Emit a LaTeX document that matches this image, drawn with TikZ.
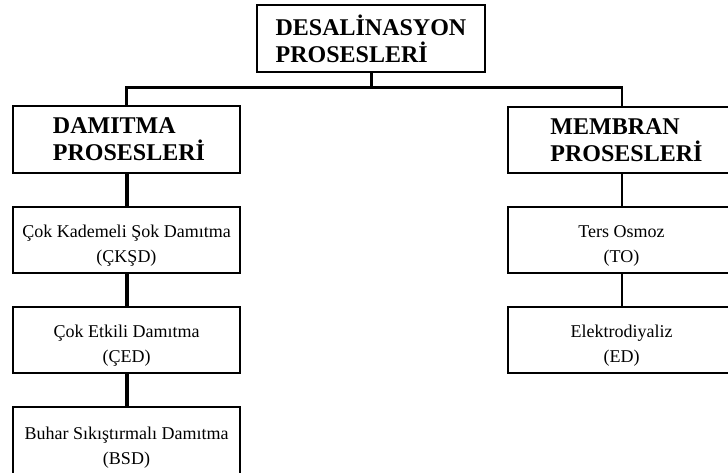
\documentclass[tikz,border=0pt]{standalone}
\usepackage{fontspec}
\setmainfont{Liberation Serif}
\newcommand{\sstrut}{\rule{0pt}{24pt}}
\newcommand{\padA}{\hspace*{5pt}}
\newcommand{\padB}{\hspace*{10pt}}
\begin{document}
\begin{tikzpicture}[x=1pt,y=-1pt,
  box/.style={draw=black,line width=1.8pt,minimum width=227pt,minimum height=66pt,inner sep=0pt,anchor=center},
  head/.style={box,align=left,font=\bfseries\fontsize{24}{27}\selectfont},
  sub/.style={box,align=center,font=\fontsize{18}{25}\selectfont},
  conn/.style={line width=3pt,black},
  thickconn/.style={line width=4pt,black},
  thinconn/.style={line width=2pt,black}]
\useasboundingbox (0,0) rectangle (728,473);
\clip (0,0) rectangle (728,473);
\node[head,minimum width=228pt,minimum height=67pt] (top) at (371,38.5) {DESALİNASYON\\PROSESLERİ};
\node[head,minimum height=67pt] (dam) at (126.5,139.5) {\padA DAMITMA\\\padA PROSESLERİ};
\node[head] (mem) at (621.5,140) {\padB MEMBRAN\\\padB PROSESLERİ};
\node[sub] (c1) at (126.5,240) {\sstrut Çok Kademeli Şok Damıtma\\(ÇKŞD)};
\node[sub] (c2) at (126.5,340) {\sstrut Çok Etkili Damıtma\\(ÇED)};
\node[sub,minimum height=70pt] (c3) at (126.5,442) {\sstrut Buhar Sıkıştırmalı Damıtma\\(BSD)};
\node[sub] (to) at (621.5,240) {\sstrut Ters Osmoz\\(TO)};
\node[sub] (ed) at (621.5,340) {\sstrut Elektrodiyaliz\\(ED)};
\coordinate (j0) at (371,88);
\draw[conn] (top.south) -- (j0);
\draw[conn] ([xshift=-1.5pt]dam.north |- j0) -- ([xshift=1.5pt]mem.north |- j0);
\draw[conn] (dam.north) -- (dam.north |- j0);
\draw[thinconn] (mem.north) -- (mem.north |- j0);
\draw[thickconn] (dam.south) -- (c1.north);
\draw[thickconn] (c1.south) -- (c2.north);
\draw[thickconn] (c2.south) -- (c3.north);
\draw[thinconn] (mem.south) -- (to.north);
\draw[thinconn] (to.south) -- (ed.north);
\end{tikzpicture}
\end{document}
